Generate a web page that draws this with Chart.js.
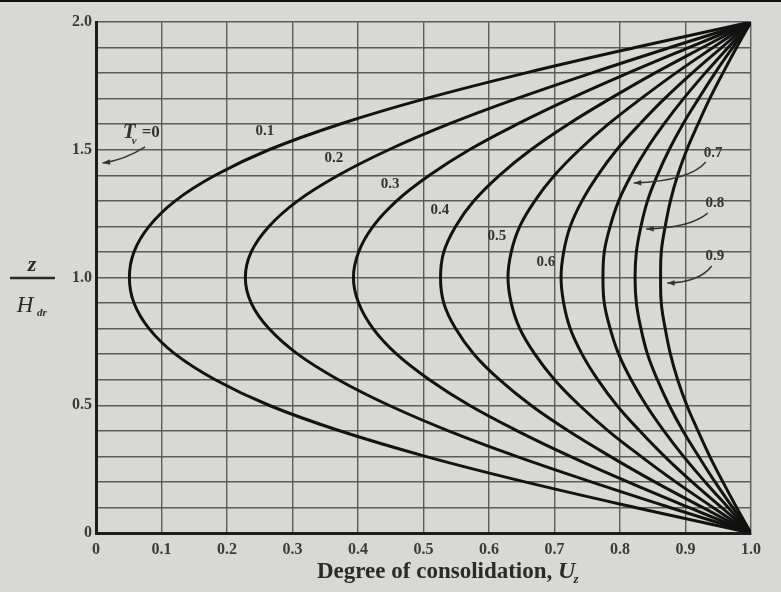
<!DOCTYPE html>
<html>
<head>
<meta charset="utf-8">
<script src="https://cdn.jsdelivr.net/npm/chart.js"></script>
<style>
  html, body { margin: 0; padding: 0; background: #d8d8d6; }
  #wrap { width: 781px; height: 592px; position: relative; }
  #wrap:before { content: ''; position: absolute; left: 0; top: 0; width: 781px; height: 2px; background: #111; }
</style>
</head>
<body>
<div id="wrap"><canvas id="myChart" width="781" height="592"></canvas></div>
<script>
// z / H_dr, bottom to top
const zValues = [0, 0.1, 0.2, 0.3, 0.4, 0.5, 0.6, 0.7, 0.8, 0.9, 1.0, 1.1, 1.2, 1.3, 1.4, 1.5, 1.6, 1.7, 1.8, 1.9, 2.0];

// degree of consolidation U_z for each time factor T_v
const uzT01 = [1, 0.823, 0.655, 0.503, 0.372, 0.264, 0.182, 0.121, 0.081, 0.058, 0.051, 0.058, 0.081, 0.121, 0.182, 0.264, 0.372, 0.503, 0.655, 0.823, 1];
const uzT02 = [1, 0.876, 0.756, 0.642, 0.538, 0.447, 0.370, 0.308, 0.264, 0.237, 0.228, 0.237, 0.264, 0.308, 0.370, 0.447, 0.538, 0.642, 0.756, 0.876, 1];
const uzT03 = [1, 0.905, 0.812, 0.724, 0.643, 0.570, 0.509, 0.459, 0.423, 0.401, 0.393, 0.401, 0.423, 0.459, 0.509, 0.570, 0.643, 0.724, 0.812, 0.905, 1];
const uzT04 = [1, 0.926, 0.853, 0.785, 0.721, 0.664, 0.616, 0.577, 0.549, 0.531, 0.526, 0.531, 0.549, 0.577, 0.616, 0.664, 0.721, 0.785, 0.853, 0.926, 1];
const uzT05 = [1, 0.942, 0.885, 0.832, 0.782, 0.738, 0.700, 0.670, 0.647, 0.634, 0.629, 0.634, 0.647, 0.670, 0.700, 0.738, 0.782, 0.832, 0.885, 0.942, 1];
const uzT06 = [1, 0.955, 0.910, 0.868, 0.830, 0.795, 0.766, 0.742, 0.724, 0.714, 0.710, 0.714, 0.724, 0.742, 0.766, 0.795, 0.830, 0.868, 0.910, 0.955, 1];
const uzT07 = [1, 0.965, 0.930, 0.897, 0.867, 0.840, 0.817, 0.798, 0.785, 0.776, 0.774, 0.776, 0.785, 0.798, 0.817, 0.840, 0.867, 0.897, 0.930, 0.965, 1];
const uzT08 = [1, 0.972, 0.945, 0.920, 0.896, 0.875, 0.857, 0.842, 0.832, 0.825, 0.823, 0.825, 0.832, 0.842, 0.857, 0.875, 0.896, 0.920, 0.945, 0.972, 1];
const uzT09 = [1, 0.978, 0.957, 0.937, 0.919, 0.902, 0.888, 0.877, 0.869, 0.863, 0.862, 0.863, 0.869, 0.877, 0.888, 0.902, 0.919, 0.937, 0.957, 0.978, 1];

const timeFactors = ['0.1', '0.2', '0.3', '0.4', '0.5', '0.6', '0.7', '0.8', '0.9'];
const uzSeries = [uzT01, uzT02, uzT03, uzT04, uzT05, uzT06, uzT07, uzT08, uzT09];

const xTickLabels = ['0', '0.1', '0.2', '0.3', '0.4', '0.5', '0.6', '0.7', '0.8', '0.9', '1.0'];
const yTickLabels = { 0: '0', 5: '0.5', 10: '1.0', 15: '1.5', 20: '2.0' };

// label placement (data units)
const inlineLabels = [
  ['0.1', 0.258, 1.573], ['0.2', 0.363, 1.468], ['0.3', 0.449, 1.366],
  ['0.4', 0.525, 1.264], ['0.5', 0.612, 1.162], ['0.6', 0.687, 1.061]
];
const arrowLabels = [
  { text: '0.7', at: [0.942, 1.487], from: [0.931, 1.452], ctrl: [0.907, 1.378], to: [0.821, 1.370] },
  { text: '0.8', at: [0.945, 1.292], from: [0.934, 1.252], ctrl: [0.907, 1.194], to: [0.840, 1.190] },
  { text: '0.9', at: [0.945, 1.084], from: [0.940, 1.045], ctrl: [0.922, 0.982], to: [0.872, 0.978] }
];
const tvArrow = { at: [0.041, 1.566], from: [0.075, 1.511], ctrl: [0.044, 1.46], to: [0.010, 1.448] };

const serif = '"Liberation Serif", "DejaVu Serif", serif';

function arrow(ctx, x0, y0, cx, cy, x1, y1) {
  ctx.beginPath();
  ctx.moveTo(x0, y0);
  ctx.quadraticCurveTo(cx, cy, x1, y1);
  ctx.stroke();
  const ang = Math.atan2(y1 - cy, x1 - cx);
  ctx.beginPath();
  ctx.moveTo(x1, y1);
  ctx.lineTo(x1 - 8 * Math.cos(ang - 0.35), y1 - 8 * Math.sin(ang - 0.35));
  ctx.lineTo(x1 - 8 * Math.cos(ang + 0.35), y1 - 8 * Math.sin(ang + 0.35));
  ctx.closePath();
  ctx.fill();
}

const textPlugin = {
  id: 'textPlugin',
  afterDatasetsDraw(chart) {
    const ctx = chart.ctx;
    const xs = chart.scales.x, ys = chart.scales.y;
    const px = v => xs.getPixelForValue(v), py = v => ys.getPixelForValue(v);
    ctx.save();
    ctx.fillStyle = '#333';
    ctx.strokeStyle = '#333';
    ctx.lineWidth = 1.4;
    ctx.textAlign = 'center';
    ctx.textBaseline = 'middle';
    ctx.font = 'bold 15px ' + serif;
    inlineLabels.forEach(l => ctx.fillText(l[0], px(l[1]), py(l[2])));
    arrowLabels.forEach(a => {
      ctx.fillText(a.text, px(a.at[0]), py(a.at[1]));
      arrow(ctx, px(a.from[0]), py(a.from[1]), px(a.ctrl[0]), py(a.ctrl[1]), px(a.to[0]), py(a.to[1]));
    });
    // T_v = 0
    const tx = px(tvArrow.at[0]), ty = py(tvArrow.at[1]);
    ctx.textAlign = 'left';
    ctx.font = 'italic bold 21px ' + serif;
    ctx.fillText('T', tx, ty);
    const tw = ctx.measureText('T').width;
    ctx.font = 'italic bold 11px ' + serif;
    ctx.fillText('v', tx + tw - 4, ty + 8);
    ctx.font = 'bold 17px ' + serif;
    ctx.fillText('=0', tx + tw + 6, ty);
    arrow(ctx, px(tvArrow.from[0]), py(tvArrow.from[1]), px(tvArrow.ctrl[0]), py(tvArrow.ctrl[1]), px(tvArrow.to[0]), py(tvArrow.to[1]));

    // y axis fraction z / H_dr
    ctx.fillStyle = '#2a2a2a';
    ctx.strokeStyle = '#2a2a2a';
    ctx.textAlign = 'center';
    ctx.textBaseline = 'alphabetic';
    ctx.font = 'italic bold 22px ' + serif;
    ctx.fillText('z', 32, 271);
    ctx.lineWidth = 2.4;
    ctx.beginPath();
    ctx.moveTo(10, 278);
    ctx.lineTo(55, 278);
    ctx.stroke();
    ctx.font = 'italic 23px ' + serif;
    ctx.fillText('H', 25, 312);
    ctx.font = 'italic bold 11px ' + serif;
    ctx.fillText('dr', 42, 316);

    // x title
    ctx.textAlign = 'left';
    ctx.font = 'bold 23px ' + serif;
    const t1 = 'Degree of consolidation, ';
    ctx.fillText(t1, 317, 578);
    const w1 = ctx.measureText(t1).width;
    ctx.font = 'italic bold 24px ' + serif;
    ctx.fillText('U', 317 + w1, 578);
    const wu = ctx.measureText('U').width;
    ctx.font = 'italic bold 13px ' + serif;
    ctx.fillText('z', 317 + w1 + wu - 2, 583);
    ctx.restore();
  }
};

const datasets = uzSeries.map((s, i) => ({
  label: 'Tv = ' + timeFactors[i],
  data: s.map((u, k) => ({ x: u, y: zValues[k] })),
  showLine: true,
  borderColor: '#121212',
  borderWidth: 3,
  pointRadius: 0,
  tension: 0.4,
  fill: false
}));

new Chart(document.getElementById('myChart'), {
  type: 'scatter',
  data: { datasets: datasets },
  options: {
    responsive: false,
    animation: false,
    layout: { padding: { left: 0, right: 30, top: 22, bottom: 0 } },
    plugins: { legend: { display: false }, tooltip: { enabled: false } },
    scales: {
      x: {
        type: 'linear', min: 0, max: 1,
        afterFit: s => { s.height = 59; },
        afterBuildTicks: s => { s.ticks = xTickLabels.map((t, i) => ({ value: i / 10 })); },
        ticks: {
          autoSkip: false, maxRotation: 0, padding: 7, color: '#3a3a3a',
          font: { family: serif, size: 16, weight: 'bold' },
          callback: (v, i) => xTickLabels[i]
        },
        grid: { color: '#5c5c5c', lineWidth: 1.4, drawTicks: false },
        border: { color: '#1c1c1c', width: 3 }
      },
      y: {
        type: 'linear', min: 0, max: 2,
        afterFit: s => { s.width = 96; },
        afterBuildTicks: s => { s.ticks = zValues.map(z => ({ value: z })); },
        ticks: {
          autoSkip: false, padding: 4, color: '#3a3a3a',
          font: { family: serif, size: 16, weight: 'bold' },
          callback: (v, i) => yTickLabels[i] || ''
        },
        grid: { color: '#5c5c5c', lineWidth: 1.4, drawTicks: false },
        border: { color: '#1c1c1c', width: 3 }
      }
    }
  },
  plugins: [textPlugin]
});
</script>
</body>
</html>
